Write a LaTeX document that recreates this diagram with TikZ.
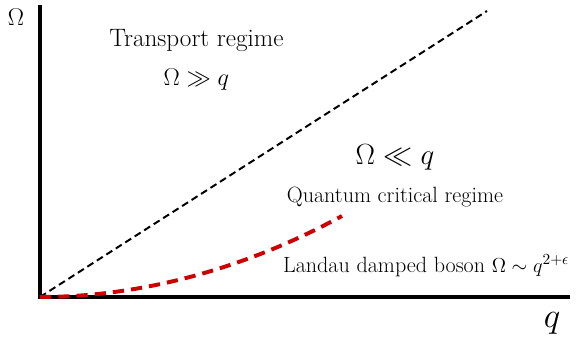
\documentclass[tikz,border=0pt]{standalone}
\usepackage{amsmath}
\usepackage{amssymb}
\usepackage{tikz}
\usetikzlibrary{positioning}

\begin{document}
\begin{tikzpicture}[
    axis/.style={line width=2.8pt},
    lightcone/.style={line width=1.4pt, dash pattern=on 5pt off 3pt},
    bosonline/.style={line width=2.8pt, color=red!80!black, dash pattern=on 8pt off 5pt},
    regime/.style={inner sep=0pt, font=\fontsize{17.9}{21}\selectfont},
    small regime/.style={inner sep=0pt, font=\fontsize{15.7}{18}\selectfont}
]
\useasboundingbox (0,0) rectangle (14.55,8.525);

\coordinate (O) at (1.0,1.1);
\coordinate (ytop) at (1.0,8.4);
\coordinate (xend) at (14.25,1.1);
\coordinate (cone) at (12.175,8.25);
\coordinate (boson) at (8.55,3.125);

% axes
\draw[axis] (ytop) -- (O) -- (xend);
\node[inner sep=0pt, font=\fontsize{18}{20}\selectfont] (omega) at (0.4,8.1) {$\Omega$};
\node[inner sep=0pt, font=\fontsize{28}{30}\selectfont] (qlabel) at (13.8,0.45) {$q$};

% crossover lines
\draw[lightcone] (O) -- (cone);
\draw[bosonline] (O) parabola (boson);

% regimes
\node[regime] (transport) at (4.91,7.52) {Transport regime};
\node[inner sep=0pt, font=\fontsize{17}{19}\selectfont, below=0.42cm of transport] (fast) {$\Omega \gg q$};
\node[inner sep=0pt, font=\fontsize{19.5}{22}\selectfont] (slow) at (9.875,4.6) {$\Omega \ll q$};
\node[small regime, below=0.42cm of slow] (qc) {Quantum critical regime};
\node[small regime, anchor=base west] (landau) at (7.07,1.72) {Landau damped boson $\Omega \sim q^{2+\epsilon}$};
\end{tikzpicture}
\end{document}
